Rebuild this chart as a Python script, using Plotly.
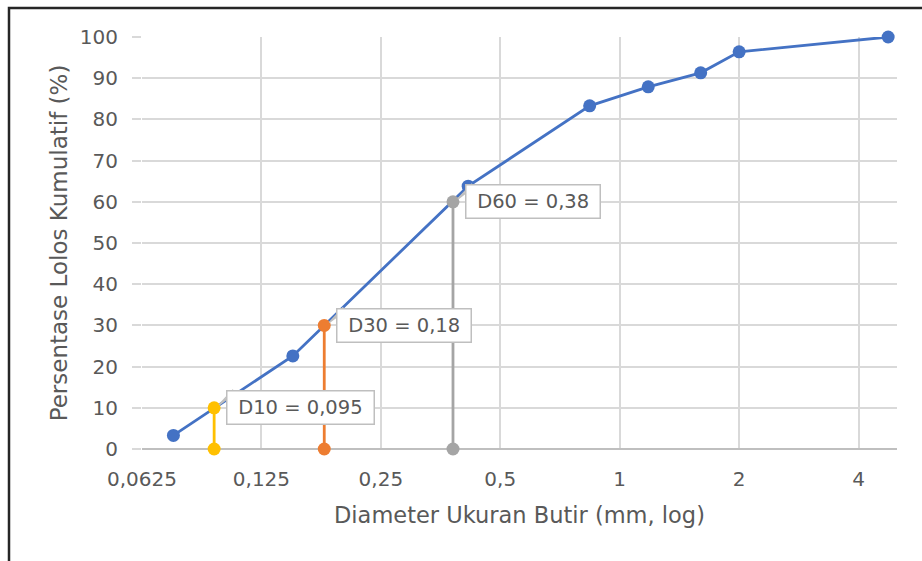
import math
import plotly.graph_objects as go

# ---- data ----
diameter_mm = [0.075, 0.15, 0.415, 0.84, 1.18, 1.6, 2.0, 4.75]
passing_pct = [3.3, 22.6, 63.8, 83.3, 87.9, 91.3, 96.4, 100.0]

d_names = ["D10", "D30", "D60"]
d_values = [0.095, 0.18, 0.38]
d_pcts = [10, 30, 60]
d_labels = ["D10 = 0,095", "D30 = 0,18", "D60 = 0,38"]
d_colors = ["#FFC000", "#ED7D31", "#A5A5A5"]

x_tickvals = [0.0625, 0.125, 0.25, 0.5, 1, 2, 4]
x_ticktext = ["0,0625", "0,125", "0,25", "0,5", "1", "2", "4"]
x_min, x_max = 0.0625, 5.0

FONT = "DejaVu Sans"
TXT = "#595959"
W, H = 922, 561
ML, MR, MT, MB = 142, 25, 37, 112
PW, PH = W - ML - MR, H - MT - MB

fig = go.Figure()

fig.add_trace(go.Scatter(
    x=diameter_mm, y=passing_pct, mode="lines+markers",
    line=dict(color="#4472C4", width=2.8),
    marker=dict(color="#4472C4", size=13),
    cliponaxis=False, showlegend=False, hoverinfo="x+y"))

for name, v, p, c in zip(d_names, d_values, d_pcts, d_colors):
    fig.add_trace(go.Scatter(
        x=[v, v], y=[0, p], mode="lines+markers",
        line=dict(color=c, width=2.8),
        marker=dict(color=c, size=13),
        cliponaxis=False, showlegend=False, name=name))

lx0, lx1 = math.log10(x_min), math.log10(x_max)


def to_paper(v, p):
    return (math.log10(v) - lx0) / (lx1 - lx0), p / 100.0


shapes = []
annotations = []
for v, p, lab in zip(d_values, d_pcts, d_labels):
    px, py = to_paper(v, p)
    # callout wedge (pixel offsets converted to paper units)
    pts = [(5, -3), (13, -9), (19, -18)]
    path = "M " + " L ".join(
        f"{px + dx / PW:.5f},{py - dy / PH:.5f}" for dx, dy in pts) + " Z"
    shapes.append(dict(type="path", xref="paper", yref="paper", path=path,
                       fillcolor="white", line=dict(color="#BFBFBF", width=1.5)))
    annotations.append(dict(
        x=math.log10(v), y=p, xref="x", yref="y",
        text="\u00a0" + lab + "\u00a0", showarrow=False,
        xanchor="left", yanchor="middle", xshift=12,
        font=dict(family=FONT, size=19.5, color=TXT),
        bgcolor="white", bordercolor="#BFBFBF", borderwidth=1.5, borderpad=4.5))

# outer chart border
shapes.append(dict(type="rect", xref="paper", yref="paper",
                   x0=(9 - ML) / PW, x1=1.2, y0=-0.5, y1=1 + (MT - 8) / PH,
                   line=dict(color="#262626", width=2.5), fillcolor="rgba(0,0,0,0)"))

fig.update_layout(
    width=W, height=H,
    margin=dict(l=ML, r=MR, t=MT, b=MB),
    paper_bgcolor="white", plot_bgcolor="white",
    font=dict(family=FONT, color=TXT),
    shapes=shapes, annotations=annotations,
    showlegend=False,
    xaxis=dict(
        type="log", range=[lx0, lx1],
        tickmode="array", tickvals=x_tickvals, ticktext=x_ticktext,
        showgrid=True, gridcolor="#D9D9D9", gridwidth=1.5,
        showline=False, zeroline=False, ticks="",
        tickfont=dict(family=FONT, size=20, color=TXT),
        ticklabelstandoff=16,
        title=dict(text="Diameter Ukuran Butir (mm, log)",
                   font=dict(family=FONT, size=22.5, color=TXT), standoff=17),
    ),
    yaxis=dict(
        range=[0, 100], tickmode="linear", tick0=0, dtick=10,
        showgrid=True, gridcolor="#D9D9D9", gridwidth=1.5,
        zeroline=True, zerolinecolor="#BFBFBF", zerolinewidth=1.5,
        showline=False, ticks="outside", ticklen=9,
        tickcolor="#D9D9D9", tickwidth=1.5,
        tickfont=dict(family=FONT, size=20, color=TXT),
        ticklabelstandoff=10,
        title=dict(text="Persentase Lolos Kumulatif (%)",
                   font=dict(family=FONT, size=23, color=TXT), standoff=5),
    ),
)

fig.write_html("out.html")
